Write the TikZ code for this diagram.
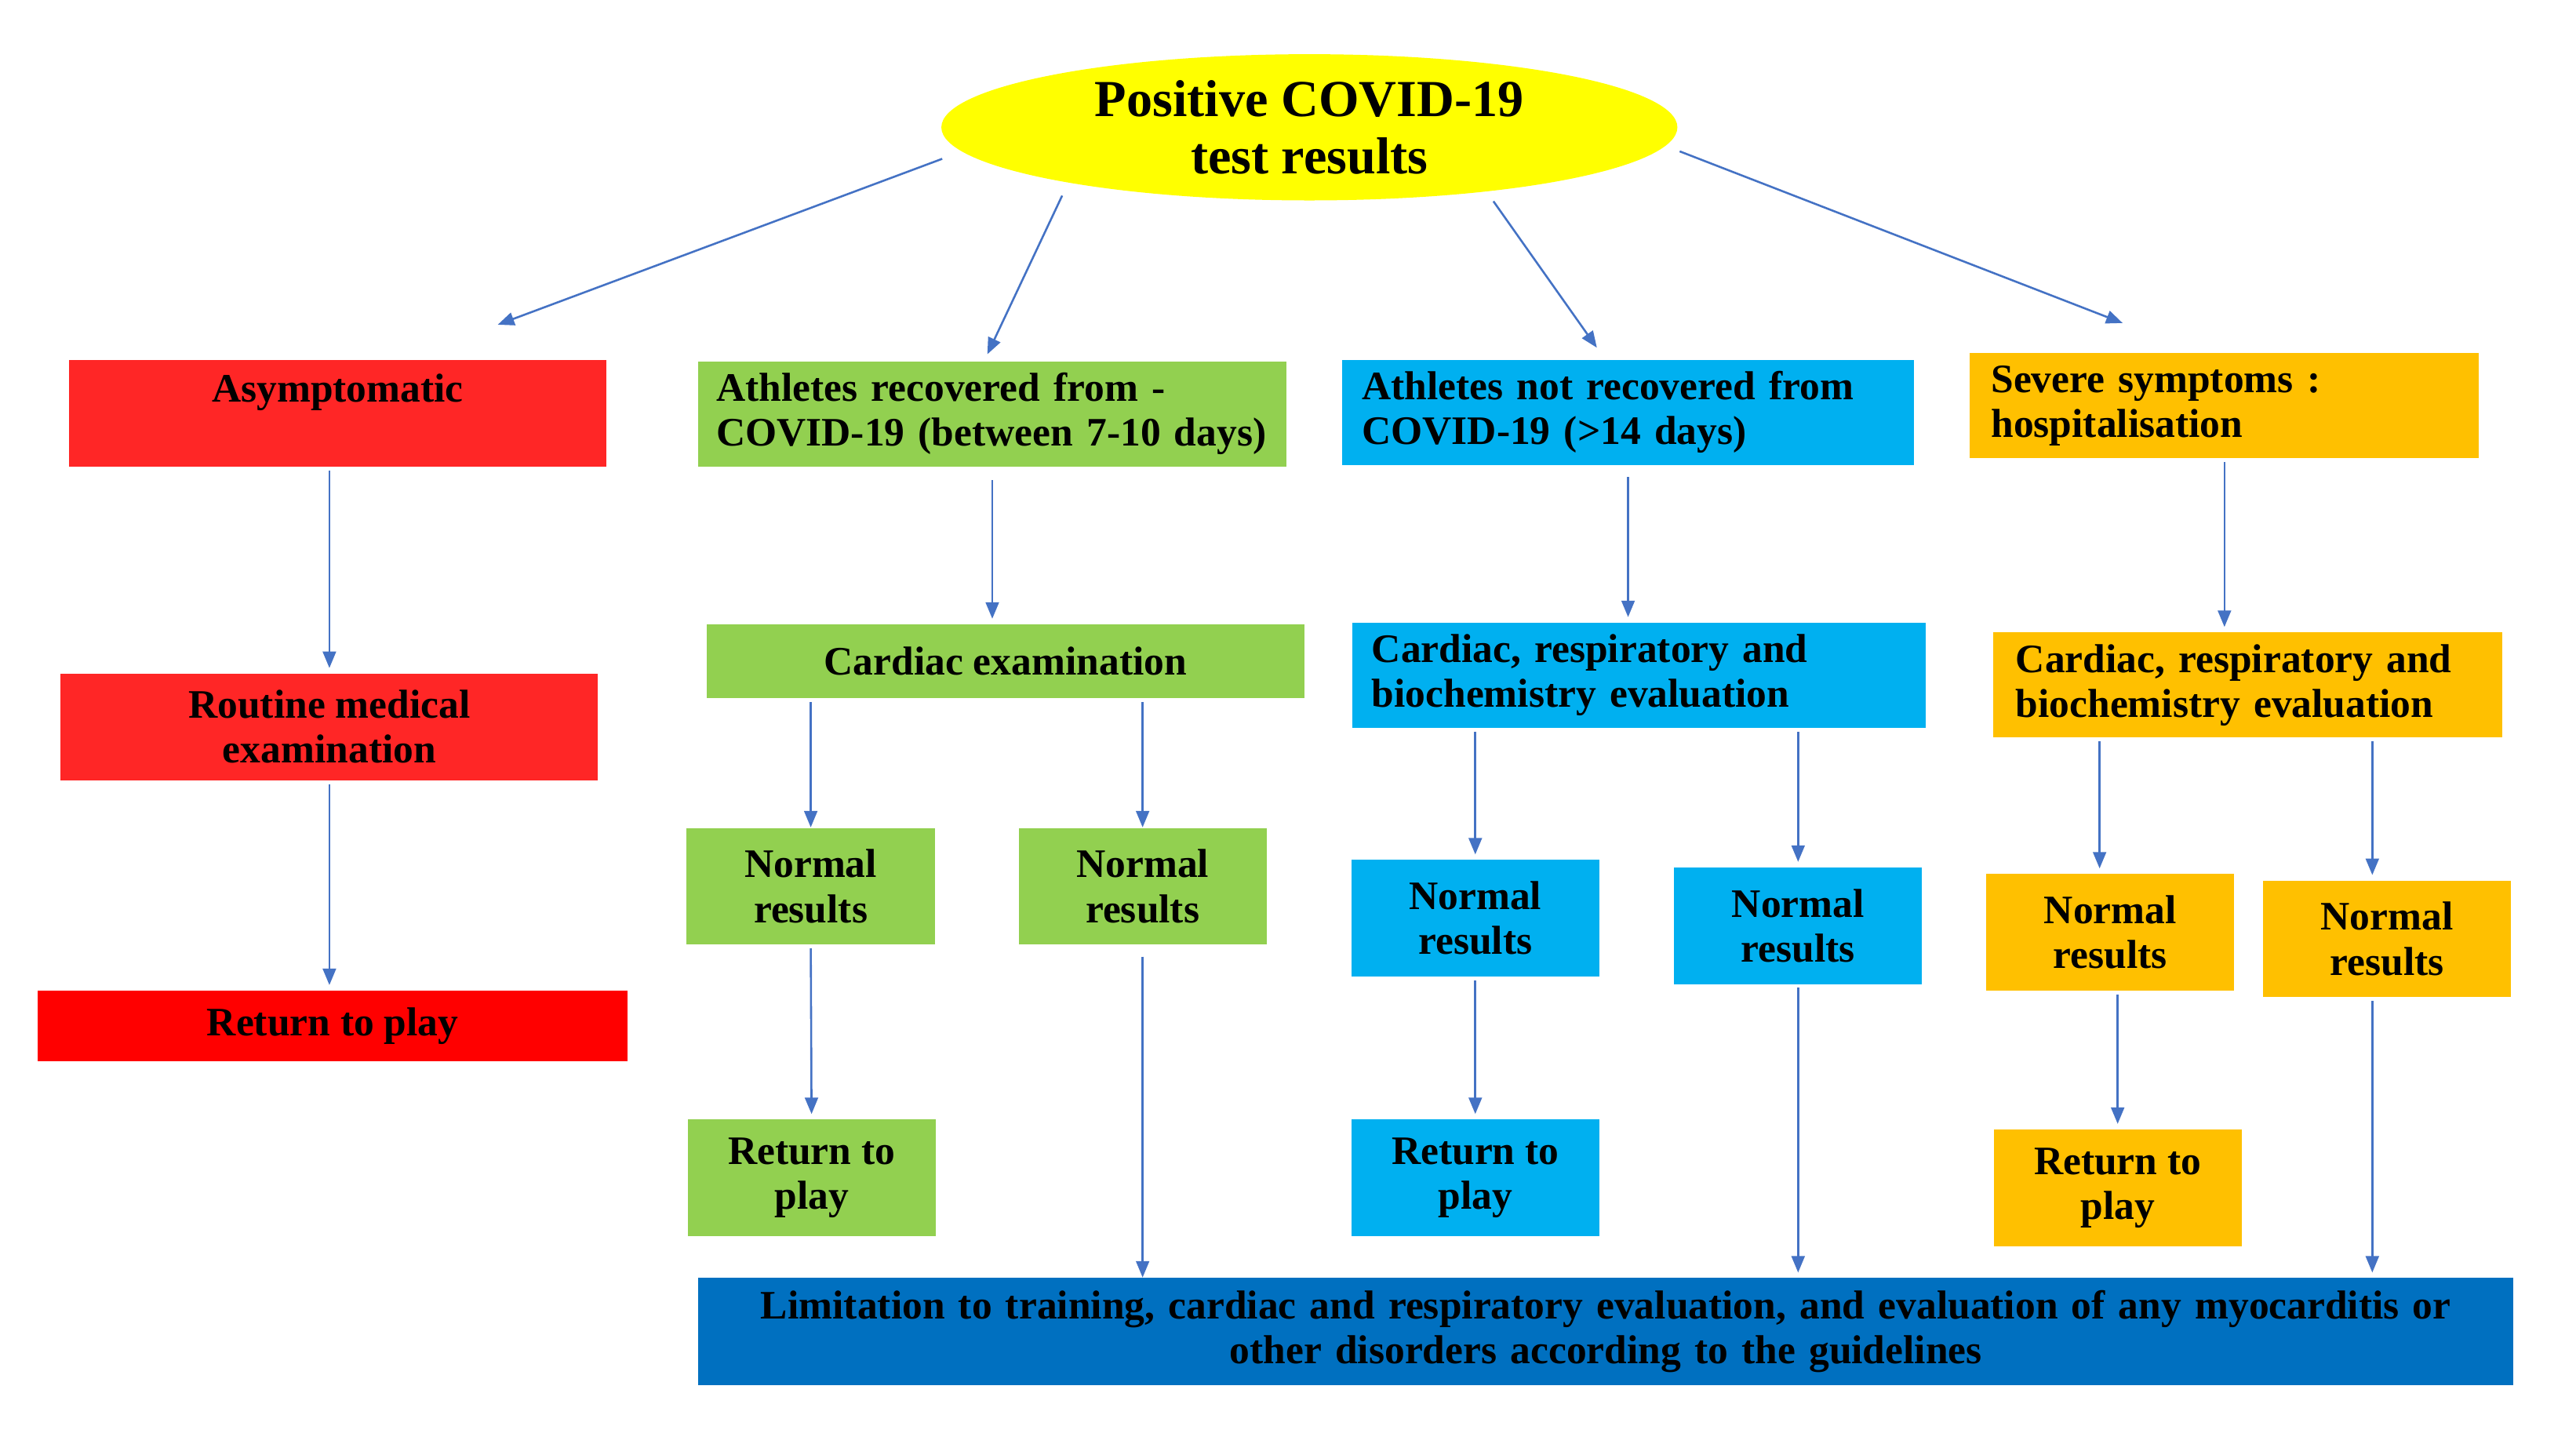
\documentclass[tikz,border=0pt]{standalone}
\usepackage{fontspec}
\setmainfont{Liberation Serif}
\usetikzlibrary{shapes.geometric, arrows.meta}

\definecolor{vermell}{HTML}{FF2626}
\definecolor{vermellb}{HTML}{FF0000}
\definecolor{verd}{HTML}{92D050}
\definecolor{cian}{HTML}{00B0F0}
\definecolor{taronja}{HTML}{FFC000}
\definecolor{blaufosc}{HTML}{0070C0}
\definecolor{groc}{HTML}{FFFF00}
\definecolor{blava}{HTML}{4472C4}

\begin{document}
\begin{tikzpicture}[x=0.2mm, y=-0.2mm,
    caixa/.style={rectangle, inner sep=0pt, align=center,
        font=\fontsize{14}{15.5}\selectfont\bfseries},
    normal/.style={caixa, minimum width=30.2mm, minimum height=14.2mm},
    fletxa/.style={draw=blava, line width=0.7pt,
        -{Triangle[length=2mm, width=1.6mm]}, shorten >=0.6mm, shorten <=0.4mm}]
    \useasboundingbox (0,0) rectangle (1568,879);

    % El·lipse
    \node[ellipse, fill=groc, minimum width=89.6mm, minimum height=17.8mm, inner sep=0pt,
        align=center, font=\fontsize{18}{20}\selectfont\bfseries] (test) at (797,77.5)
        {Positive COVID-19\\test results};

    % Primera fila
    \node[caixa, fill=vermell, minimum width=65.4mm, minimum height=13mm,
        label={[caixa, anchor=base, yshift=-5.2mm]north:Asymptomatic}] (asim) at (205.5,251.5) {};
    \node[caixa, fill=verd, minimum width=71.6mm, minimum height=12.8mm, text width=67.2mm, align=left]
        (recup) at (604,252) {Athletes recovered from -\\COVID-19 (between 7-10 days)};
    \node[caixa, fill=cian, minimum width=69.6mm, minimum height=12.8mm, text width=64.8mm, align=left]
        (norecup) at (991,251) {Athletes not recovered from\\COVID-19 (>14 days)};
    \node[caixa, fill=taronja, minimum width=62mm, minimum height=12.8mm, text width=56.8mm, align=left]
        (greu) at (1354,247) {Severe symptoms :\\hospitalisation};

    % Segona fila
    \node[caixa, fill=vermell, minimum width=65.4mm, minimum height=13mm] (rutina) at (200.5,442.5)
        {Routine medical\\examination};
    \node[caixa, fill=verd, minimum width=72.8mm, minimum height=9mm] (cardio) at (612,402.5)
        {Cardiac examination};
    \node[caixa, fill=cian, minimum width=69.8mm, minimum height=12.8mm, text width=65mm, align=left]
        (avalb) at (997.5,411) {Cardiac, respiratory and\\biochemistry evaluation};
    \node[caixa, fill=taronja, minimum width=62mm, minimum height=12.8mm, text width=56.4mm, align=left]
        (avalt) at (1368,417) {Cardiac, respiratory and\\biochemistry evaluation};

    % Resultats
    \node[caixa, fill=vermellb, minimum width=71.8mm, minimum height=8.6mm] (tornav) at (202.5,624.5)
        {Return to play};
    \node[normal, fill=verd] (nv1) at (493.5,539.5) {Normal\\results};
    \node[normal, fill=verd] (nv2) at (695.5,539.5) {Normal\\results};
    \node[normal, fill=cian] (nb1) at (898,559) {Normal\\results};
    \node[normal, fill=cian] (nb2) at (1094.5,563.5) {Normal\\results};
    \node[normal, fill=taronja] (nt1) at (1284.5,567.5) {Normal\\results};
    \node[normal, fill=taronja] (nt2) at (1453,571.5) {Normal\\results};

    \node[normal, fill=verd] (tv) at (494,717) {Return to\\play};
    \node[normal, fill=cian] (tb) at (898,717) {Return to\\play};
    \node[normal, fill=taronja] (tt) at (1289,723) {Return to\\play};

    \node[caixa, fill=blaufosc, minimum width=221mm, minimum height=13mm, text width=217mm]
        (limit) at (977.5,810.5) {Limitation to training, cardiac and respiratory evaluation, and evaluation of any myocarditis or\\other disorders according to the guidelines};

    % Fletxes
    \draw[fletxa, shorten <=2.5mm, shorten >=0pt] (test.184) -- ([xshift=19.5mm, yshift=4.2mm]asim.north);
    \draw[fletxa, shorten <=1.7mm, shorten >=0pt] (test.193) -- ([xshift=-0.6mm, yshift=0.8mm]recup.north);
    \draw[fletxa, shorten <=1.4mm, shorten >=0pt] (test.340) -- ([xshift=-3.8mm, yshift=1.4mm]norecup.north);
    \draw[fletxa, shorten <=1.8mm, shorten >=0pt] (test.357) -- ([xshift=-12.4mm, yshift=3.6mm]greu.north);

    \draw[fletxa] (asim.south -| rutina.north) -- (rutina.north);
    \draw[fletxa] (rutina.south) -- (rutina.south |- tornav.north);

    \draw[fletxa, shorten <=1.6mm] (recup.south) -- (recup.south |- cardio.north);
    \draw[fletxa, shorten >=0pt] (cardio.south -| nv1.north) -- (nv1.north);
    \draw[fletxa, shorten >=0pt] (cardio.south -| nv2.north) -- (nv2.north);
    \draw[fletxa] (nv1.south) -- (tv.north);
    \draw[fletxa, shorten <=1.4mm, shorten >=0pt] (nv2.south) -- (nv2.south |- limit.north);

    \draw[fletxa, shorten <=1.4mm] (norecup.south) -- (norecup.south |- avalb.north);
    \draw[fletxa] (avalb.south -| nb1.north) -- (nb1.north);
    \draw[fletxa] (avalb.south -| nb2.north) -- (nb2.north);
    \draw[fletxa] (nb1.south) -- (tb.north);
    \draw[fletxa] (nb2.south) -- (nb2.south |- limit.north);

    \draw[fletxa] (greu.south) -- (greu.south |- avalt.north);
    \draw[fletxa] ([xshift=-1.3mm]avalt.south -| nt1.north) -- ([xshift=-1.3mm]nt1.north);
    \draw[fletxa] ([xshift=-1.8mm]avalt.south -| nt2.north) -- ([xshift=-1.8mm]nt2.north);
    \draw[fletxa] (tt.north |- nt1.south) -- (tt.north);
    \draw[fletxa] ([xshift=-1.8mm]nt2.south) -- ([xshift=-1.8mm]nt2.south |- limit.north);
\end{tikzpicture}
\end{document}
